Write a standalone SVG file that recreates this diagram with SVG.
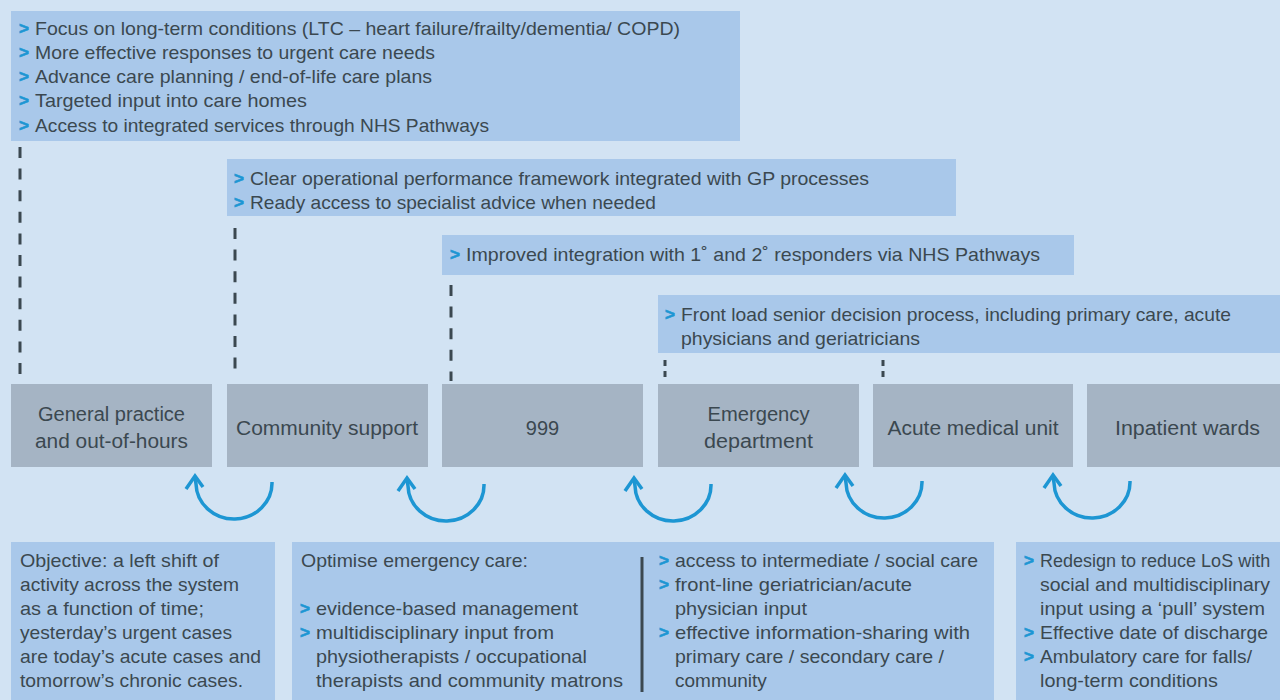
<svg xmlns="http://www.w3.org/2000/svg" width="1280" height="700" viewBox="0 0 1280 700">
<style>
.bg{fill:#d2e3f3}
.lb{fill:#a9c8ea}
.gb{fill:#a5b4c4}
text{font-family:"Liberation Sans",Arial,sans-serif;fill:#3b4850}
.t{font-size:19px}
.n{font-size:20px;text-anchor:middle}
.c{font-size:17px;font-weight:bold;fill:#1d96d3;stroke:#1d96d3;stroke-width:0.7}
.dash{stroke:#3b4850;stroke-width:3;fill:none;stroke-dasharray:11 10.6}
.sd{stroke:#3b4850;stroke-width:3;fill:none;stroke-dasharray:6 5}
.arc{stroke:#1d96d3;stroke-width:3.5;fill:none;stroke-linecap:butt}
</style>
<defs>
<g id="cyc">
<path class="arc" d="M77,6 A38,36 0 0 1 1,8 L0,1"/>
<polyline class="arc" points="-9,13 0,0 8,11"/>
</g>
</defs>
<rect class="bg" x="0" y="0" width="1280" height="700"/>

<g id="note-top">
<rect class="lb" x="11" y="11" width="729" height="130"/>
<text class="c" x="19" y="34">&gt;</text><text class="t" x="35" y="35" textLength="645" lengthAdjust="spacingAndGlyphs">Focus on long-term conditions (LTC – heart failure/frailty/dementia/ COPD)</text>
<text class="c" x="19" y="58">&gt;</text><text class="t" x="35" y="59" textLength="400" lengthAdjust="spacingAndGlyphs">More effective responses to urgent care needs</text>
<text class="c" x="19" y="82">&gt;</text><text class="t" x="35" y="83" textLength="397" lengthAdjust="spacingAndGlyphs">Advance care planning / end-of-life care plans</text>
<text class="c" x="19" y="106">&gt;</text><text class="t" x="35" y="107" textLength="272" lengthAdjust="spacingAndGlyphs">Targeted input into care homes</text>
<text class="c" x="19" y="131">&gt;</text><text class="t" x="35" y="132" textLength="454" lengthAdjust="spacingAndGlyphs">Access to integrated services through NHS Pathways</text>
</g>

<g id="note-community">
<rect class="lb" x="227" y="159" width="729" height="57"/>
<text class="c" x="234" y="184">&gt;</text><text class="t" x="250" y="185" textLength="619" lengthAdjust="spacingAndGlyphs">Clear operational performance framework integrated with GP processes</text>
<text class="c" x="234" y="208">&gt;</text><text class="t" x="250" y="209" textLength="406" lengthAdjust="spacingAndGlyphs">Ready access to specialist advice when needed</text>
</g>

<g id="note-999">
<rect class="lb" x="442" y="235" width="632" height="40"/>
<text class="c" x="450" y="260">&gt;</text><text class="t" x="466" y="261" textLength="574" lengthAdjust="spacingAndGlyphs">Improved integration with 1˚ and 2˚ responders via NHS Pathways</text>
</g>

<g id="note-ed">
<rect class="lb" x="658" y="295" width="622" height="58"/>
<text class="c" x="665" y="320">&gt;</text><text class="t" x="681" y="321" textLength="550" lengthAdjust="spacingAndGlyphs">Front load senior decision process, including primary care, acute</text>
<text class="t" x="681" y="345" textLength="239" lengthAdjust="spacingAndGlyphs">physicians and geriatricians</text>
</g>

<g id="connectors">
<line class="dash" x1="20" y1="147" x2="20" y2="375"/>
<line class="dash" x1="235" y1="228" x2="235" y2="375"/>
<line class="dash" x1="451" y1="285" x2="451" y2="381"/>
<line class="sd" x1="665" y1="360" x2="665" y2="377"/>
<line class="sd" x1="883" y1="360" x2="883" y2="377"/>
<use href="#cyc" x="195" y="476"/>
<use href="#cyc" x="407" y="478"/>
<use href="#cyc" x="634" y="478"/>
<use href="#cyc" x="845" y="475"/>
<use href="#cyc" x="1053" y="475"/>
</g>

<g id="node-gp">
<rect class="gb" x="11" y="384" width="201" height="83"/>
<text class="n" x="111.5" y="421" textLength="147" lengthAdjust="spacingAndGlyphs">General practice</text>
<text class="n" x="111.5" y="448" textLength="153" lengthAdjust="spacingAndGlyphs">and out-of-hours</text>
</g>
<g id="node-community">
<rect class="gb" x="227" y="384" width="201" height="83"/>
<text class="n" x="327" y="435" textLength="182" lengthAdjust="spacingAndGlyphs">Community support</text>
</g>
<g id="node-999">
<rect class="gb" x="442" y="384" width="201" height="83"/>
<text class="n" x="542.5" y="435">999</text>
</g>
<g id="node-ed">
<rect class="gb" x="658" y="384" width="201" height="83"/>
<text class="n" x="758.5" y="421" textLength="102" lengthAdjust="spacingAndGlyphs">Emergency</text>
<text class="n" x="758.5" y="448" textLength="109" lengthAdjust="spacingAndGlyphs">department</text>
</g>
<g id="node-amu">
<rect class="gb" x="873" y="384" width="200" height="83"/>
<text class="n" x="973" y="435" textLength="171" lengthAdjust="spacingAndGlyphs">Acute medical unit</text>
</g>
<g id="node-wards">
<rect class="gb" x="1087" y="384" width="193" height="83"/>
<text class="n" x="1187.5" y="435" textLength="145" lengthAdjust="spacingAndGlyphs">Inpatient wards</text>
</g>

<g id="note-objective">
<rect class="lb" x="11" y="542" width="264" height="158"/>
<text class="t" x="20" y="567" textLength="199" lengthAdjust="spacingAndGlyphs">Objective: a left shift of</text>
<text class="t" x="20" y="591" textLength="219" lengthAdjust="spacingAndGlyphs">activity across the system</text>
<text class="t" x="20" y="615" textLength="184" lengthAdjust="spacingAndGlyphs">as a function of time;</text>
<text class="t" x="20" y="639" textLength="212" lengthAdjust="spacingAndGlyphs">yesterday’s urgent cases</text>
<text class="t" x="20" y="663" textLength="241" lengthAdjust="spacingAndGlyphs">are today’s acute cases and</text>
<text class="t" x="20" y="687" textLength="223" lengthAdjust="spacingAndGlyphs">tomorrow’s chronic cases.</text>
</g>

<g id="note-emergency">
<rect class="lb" x="292" y="542" width="702" height="158"/>
<line x1="642" y1="557" x2="642" y2="692" stroke="#3b4850" stroke-width="3"/>
<text class="t" x="301" y="567" textLength="227" lengthAdjust="spacingAndGlyphs">Optimise emergency care:</text>
<text class="c" x="300" y="614">&gt;</text><text class="t" x="316" y="615" textLength="262" lengthAdjust="spacingAndGlyphs">evidence-based management</text>
<text class="c" x="300" y="638">&gt;</text><text class="t" x="316" y="639" textLength="238" lengthAdjust="spacingAndGlyphs">multidisciplinary input from</text>
<text class="t" x="316" y="663" textLength="271" lengthAdjust="spacingAndGlyphs">physiotherapists / occupational</text>
<text class="t" x="316" y="687" textLength="307" lengthAdjust="spacingAndGlyphs">therapists and community matrons</text>
<text class="c" x="659" y="566">&gt;</text><text class="t" x="675" y="567" textLength="303" lengthAdjust="spacingAndGlyphs">access to intermediate / social care</text>
<text class="c" x="659" y="590">&gt;</text><text class="t" x="675" y="591" textLength="237" lengthAdjust="spacingAndGlyphs">front-line geriatrician/acute</text>
<text class="t" x="675" y="615" textLength="132" lengthAdjust="spacingAndGlyphs">physician input</text>
<text class="c" x="659" y="638">&gt;</text><text class="t" x="675" y="639" textLength="295" lengthAdjust="spacingAndGlyphs">effective information-sharing with</text>
<text class="t" x="675" y="663" textLength="269" lengthAdjust="spacingAndGlyphs">primary care / secondary care /</text>
<text class="t" x="675" y="687">community</text>
</g>

<g id="note-wards">
<rect class="lb" x="1016" y="542" width="264" height="158"/>
<text class="c" x="1024" y="566">&gt;</text><text x="1040" y="567" font-size="18">Redesign to reduce LoS with</text>
<text class="t" x="1040" y="591" textLength="230" lengthAdjust="spacingAndGlyphs">social and multidisciplinary</text>
<text class="t" x="1040" y="615" textLength="225" lengthAdjust="spacingAndGlyphs">input using a ‘pull’ system</text>
<text class="c" x="1024" y="638">&gt;</text><text class="t" x="1040" y="639" textLength="228" lengthAdjust="spacingAndGlyphs">Effective date of discharge</text>
<text class="c" x="1024" y="662">&gt;</text><text class="t" x="1040" y="663" textLength="212" lengthAdjust="spacingAndGlyphs">Ambulatory care for falls/</text>
<text class="t" x="1040" y="687" textLength="178" lengthAdjust="spacingAndGlyphs">long-term conditions</text>
</g>
</svg>
